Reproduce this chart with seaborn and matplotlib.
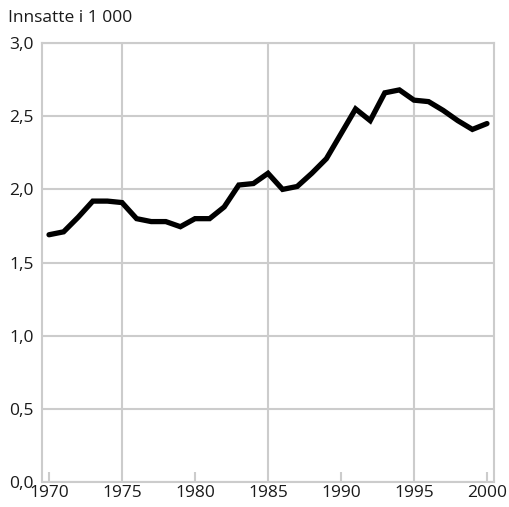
import matplotlib
matplotlib.use("Agg")
import matplotlib.pyplot as plt
import matplotlib.ticker as mticker
import pandas as pd
import seaborn as sns

# %% DATA

years = list(range(1970, 2001))
inmates = [1.69, 1.71, 1.81, 1.92, 1.92, 1.91, 1.80, 1.78, 1.78, 1.745,
           1.80, 1.80, 1.88, 2.03, 2.04, 2.11, 2.00, 2.02, 2.11, 2.21,
           2.38, 2.55, 2.47, 2.66, 2.68, 2.61, 2.60, 2.54, 2.47, 2.41,
           2.45]
label_years = [1970, 1975, 1980, 1985, 1990, 1995, 2000]
y_ticks = [0.0, 0.5, 1.0, 1.5, 2.0, 2.5, 3.0]

data = pd.DataFrame({'Year': years, 'Inmates': inmates})

# %% PLOT

sns.set_style('white')
plt.rcParams['font.family'] = ['Open Sans', 'DejaVu Sans']

grid_c = '#cccccc'
fig = plt.figure(figsize=(5.09, 5.07), dpi=100)
ax = fig.add_axes([0.0825, 0.0493, 0.888, 0.8657])

sns.lineplot(data=data, x='Year', y='Inmates', color='black', lw=3.8,
             ax=ax, solid_joinstyle='miter')

ax.set_xlim(1969.52, 2000.48)
ax.set_ylim(0, 3.0)
ax.set_xlabel('')
ax.set_ylabel('')

# ticks every 10 years drawn inward, gridlines on the in-between years
major = [y for y in label_years if (y - 1970) % 10 == 0]
minor = [y for y in label_years if (y - 1970) % 10 != 0]
ax.xaxis.set_major_locator(mticker.FixedLocator(major))
ax.xaxis.set_minor_locator(mticker.FixedLocator(minor))
ax.xaxis.set_major_formatter(mticker.FixedFormatter([str(y) for y in major]))
ax.xaxis.set_minor_formatter(mticker.FixedFormatter([str(y) for y in minor]))
ax.tick_params(axis='x', which='major', direction='in', length=7, width=1.5,
               color=grid_c, labelsize=12.5, pad=2, labelcolor='#1a1a1a',
               bottom=True)
ax.tick_params(axis='x', which='minor', length=0, labelsize=12.5, pad=2,
               labelcolor='#1a1a1a', bottom=True)
ax.grid(axis='x', which='minor', color=grid_c, lw=1.5)

ax.set_yticks(y_ticks)
ax.set_yticklabels([f'{v:.1f}'.replace('.', ',') for v in y_ticks])
ax.tick_params(axis='y', length=0, labelsize=12.5, pad=6, labelcolor='#1a1a1a')
ax.grid(axis='y', color=grid_c, lw=1.5)
ax.set_axisbelow(True)

for s in ax.spines.values():
    s.set_color(grid_c)
    s.set_linewidth(1.5)

fig.text(0.016, 0.965, 'Innsatte i 1 000', fontsize=12.5, color='#1a1a1a',
         ha='left', va='center')

fig.savefig('out.png', dpi=100)
